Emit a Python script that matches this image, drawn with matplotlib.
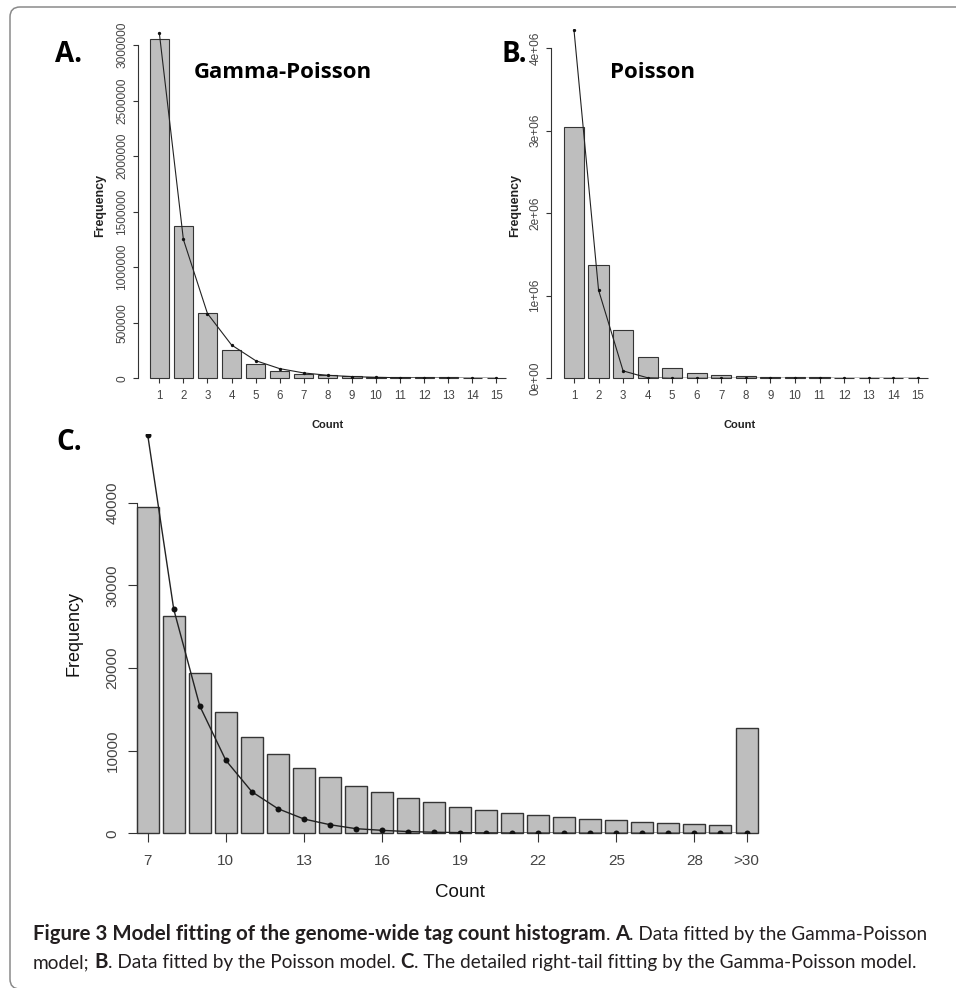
import matplotlib as mpl
import matplotlib.pyplot as plt
from matplotlib.patches import FancyBboxPatch
from matplotlib.transforms import IdentityTransform

mpl.rcParams['font.family'] = ['Liberation Sans', 'DejaVu Sans']
mpl.rcParams['figure.dpi'] = 100

W, H = 956, 988

# ---- data ----
counts_ab = list(range(1, 16))
head_observed = [3050000, 1375000, 590000, 255000, 125000, 66000]
gp_fit_ab = [3110000, 1250000, 583000, 300000, 159000, 87000, 48200, 27100,
             15400, 8830, 5030, 2980, 1730, 1040, 560]
poisson_fit_b = [4220000, 1070000, 90000, 6000, 300, 10, 0, 0, 0, 0, 0, 0, 0, 0, 0]

tail_labels = [str(i) for i in range(7, 30)] + ['>30']
tail_observed = [39500, 26300, 19400, 14700, 11600, 9600, 7900, 6800, 5700, 5000,
                 4300, 3800, 3200, 2800, 2500, 2250, 1970, 1730, 1570, 1370,
                 1250, 1130, 1010, 12740]
tail_fit = [48200, 27100, 15400, 8830, 5030, 2980, 1730, 1040, 560, 360,
            210, 130, 80, 50, 30, 20, 12, 8, 5, 3, 2, 1, 1, 0]
tail_tick_labels = ['7', '10', '13', '16', '19', '22', '25', '28', '>30']

observed_ab = head_observed + tail_observed[:9]

a_yticks = [0, 500000, 1000000, 1500000, 2000000, 2500000, 3000000]
b_yticks = [0, 1000000, 2000000, 3000000, 4000000]
b_yticklabels = ['0e+00', '1e+06', '2e+06', '3e+06', '4e+06']
c_yticks = [0, 10000, 20000, 30000, 40000]

bar_fill = '#bebebe'
bar_edge = '#353535'
axis_col = '#333333'
tick_col = '#444444'


def add_axes_px(fig, left, right, top, bottom):
    return fig.add_axes([left / W, 1 - bottom / H, (right - left) / W, (bottom - top) / H])


def r_style(ax, yticks, ylabels, tick_len, xsize, ysize, xpad, ypad):
    for side in ['top', 'right', 'bottom']:
        ax.spines[side].set_visible(False)
    ax.spines['left'].set_bounds(yticks[0], yticks[-1])
    ax.spines['left'].set_color(axis_col)
    ax.spines['left'].set_linewidth(0.8)
    ax.set_yticks(yticks)
    ax.set_yticklabels(ylabels, rotation=90, va='center')
    ax.tick_params(axis='both', length=tick_len, width=0.8, color=axis_col,
                   labelcolor=tick_col)
    ax.tick_params(axis='x', pad=xpad, labelsize=xsize)
    ax.tick_params(axis='y', pad=ypad, labelsize=ysize)
    ax.patch.set_visible(False)


def px_text(fig, x, y, s, **kw):
    return fig.text(x / W, 1 - y / H, s, **kw)


fig = plt.figure(figsize=(W / 100, H / 100), dpi=100)

# ---- panel A: Gamma-Poisson ----
axA = add_axes_px(fig, 137.7, 505, 31, 378.3)
axA.bar(counts_ab, observed_ab, width=0.8, color=bar_fill, edgecolor=bar_edge,
        linewidth=0.8, clip_on=False)
axA.plot(counts_ab, gp_fit_ab, color='#222222', linewidth=0.8, marker='o',
         markersize=2.4, markerfacecolor='#111111', markeredgewidth=0)
axA.set_xlim(0.103, 15.356)
axA.set_ylim(0, 3.126e6)
axA.set_xticks(counts_ab)
r_style(axA, a_yticks, [str(v) for v in a_yticks], 3.6, 8.3, 8.6, 5.0, 3.0)

# ---- panel B: Poisson ----
axB = add_axes_px(fig, 550.7, 930, 29, 378.3)
axB.bar(counts_ab, observed_ab, width=0.82, color=bar_fill, edgecolor=bar_edge,
        linewidth=0.8, clip_on=False)
axB.plot(counts_ab, poisson_fit_b, color='#222222', linewidth=0.8, marker='o',
         markersize=2.4, markerfacecolor='#111111', markeredgewidth=0)
axB.set_xlim(0.051, 15.5)
axB.set_ylim(0, 4.234e6)
axB.set_xticks(counts_ab)
r_style(axB, b_yticks, b_yticklabels, 3.6, 8.3, 8.6, 5.0, 3.0)

# ---- panel C: right tail ----
axC = add_axes_px(fig, 137.3, 765, 434, 833.3)
pos_c = list(range(len(tail_labels)))
axC.bar(pos_c, tail_observed, width=0.845, color=bar_fill, edgecolor=bar_edge,
        linewidth=1.0, clip_on=False)
axC.plot(pos_c, tail_fit, color='#222222', linewidth=1.0, marker='o',
         markersize=4.3, markerfacecolor='#111111', markeredgewidth=0)
axC.set_xlim(-0.4, 23.71)
axC.set_ylim(0, 48310)
axC.set_xticks([tail_labels.index(t) for t in tail_tick_labels])
axC.set_xticklabels(tail_tick_labels)
r_style(axC, c_yticks, [str(v) for v in c_yticks], 6.3, 11, 11, 8.5, 6.5)

# ---- axis titles ----
px_text(fig, 100, 205, 'Frequency', rotation=90, ha='center', va='center',
        fontsize=9, fontweight='bold', color='#222222')
px_text(fig, 328, 425, 'Count', ha='center', va='center', fontsize=8,
        fontweight='bold', color='#222222')
px_text(fig, 515, 205, 'Frequency', rotation=90, ha='center', va='center',
        fontsize=9, fontweight='bold', color='#222222')
px_text(fig, 740, 425, 'Count', ha='center', va='center', fontsize=8,
        fontweight='bold', color='#222222')
px_text(fig, 74.5, 634, 'Frequency', rotation=90, ha='center', va='center',
        fontsize=13, color='#111111')
px_text(fig, 460, 892, 'Count', ha='center', va='center', fontsize=13.5,
        color='#111111')

# ---- panel tags and model names ----
tag_font = ['Open Sans', 'DejaVu Sans']
px_text(fig, 55, 55, 'A.', ha='left', va='center', fontsize=20, fontweight='bold', family=tag_font)
px_text(fig, 501.7, 55, 'B.', ha='left', va='center', fontsize=20, fontweight='bold', family=tag_font)
px_text(fig, 56.7, 442, 'C.', ha='left', va='center', fontsize=20, fontweight='bold', family=tag_font)
px_text(fig, 194, 72, 'Gamma-Poisson', ha='left', va='center', fontsize=16,
        fontweight='bold', family=tag_font)
px_text(fig, 610, 72, 'Poisson', ha='left', va='center', fontsize=16,
        fontweight='bold', family=tag_font)

# ---- rounded frame (clipped at right and bottom like the page crop) ----
frame = FancyBboxPatch((10, -1), 1200, H - 7 + 1, boxstyle='round,pad=0,rounding_size=10',
                       transform=IdentityTransform(), facecolor='none',
                       edgecolor='#8a8a8a', linewidth=1.1)
fig.patches.append(frame)

# ---- caption with mixed bold segments ----
cap_font = ['Lato', 'DejaVu Sans']
cap_col = '#231f20'
line1 = [('Figure 3 Model fitting of the genome-wide tag count histogram', True),
         ('.', False), ('A', True), ('. Data fitted by the Gamma-Poisson', False)]
line2 = [('model;', False), ('B', True), ('. Data fitted by the Poisson model.', False),
         ('C', True), ('. The detailed right-tail fitting by the Gamma-Poisson model.', False)]

renderer = fig.canvas.get_renderer()


def text_width(s, size, bold):
    t = fig.text(0, 0, s, fontsize=size, family=cap_font,
                 fontweight='bold' if bold else 'normal')
    w = t.get_window_extent(renderer).width
    t.remove()
    return w


def draw_line(parts, x, y, reg_size, bold_size):
    space = text_width('a a', reg_size, False) - text_width('aa', reg_size, False)
    for i, (txt, bold) in enumerate(parts):
        t = px_text(fig, x, y, txt, ha='left', va='baseline',
                    fontsize=bold_size if bold else reg_size,
                    fontweight='bold' if bold else 'normal', family=cap_font, color=cap_col)
        x += t.get_window_extent(renderer).width
        if i < len(parts) - 1 and (txt.endswith('.') or txt.endswith(';')):
            x += space
    return x


# regular text sized so line 2 spans the same width as in the figure,
# bold lead-in sized so it ends where it does in the figure
base = 12.5
line2_w = sum(text_width(t, base, b) for t, b in line2) + 3 * (
    text_width('a a', base, False) - text_width('aa', base, False))
reg_size = base * (921 - 33) / line2_w
bold_size = base * (607.7 - 33) / text_width(line1[0][0], base, True)

draw_line(line1, 33, 940, reg_size, bold_size)
draw_line(line2, 33, 968, reg_size, bold_size)

plt.savefig('out.png', dpi=100)
